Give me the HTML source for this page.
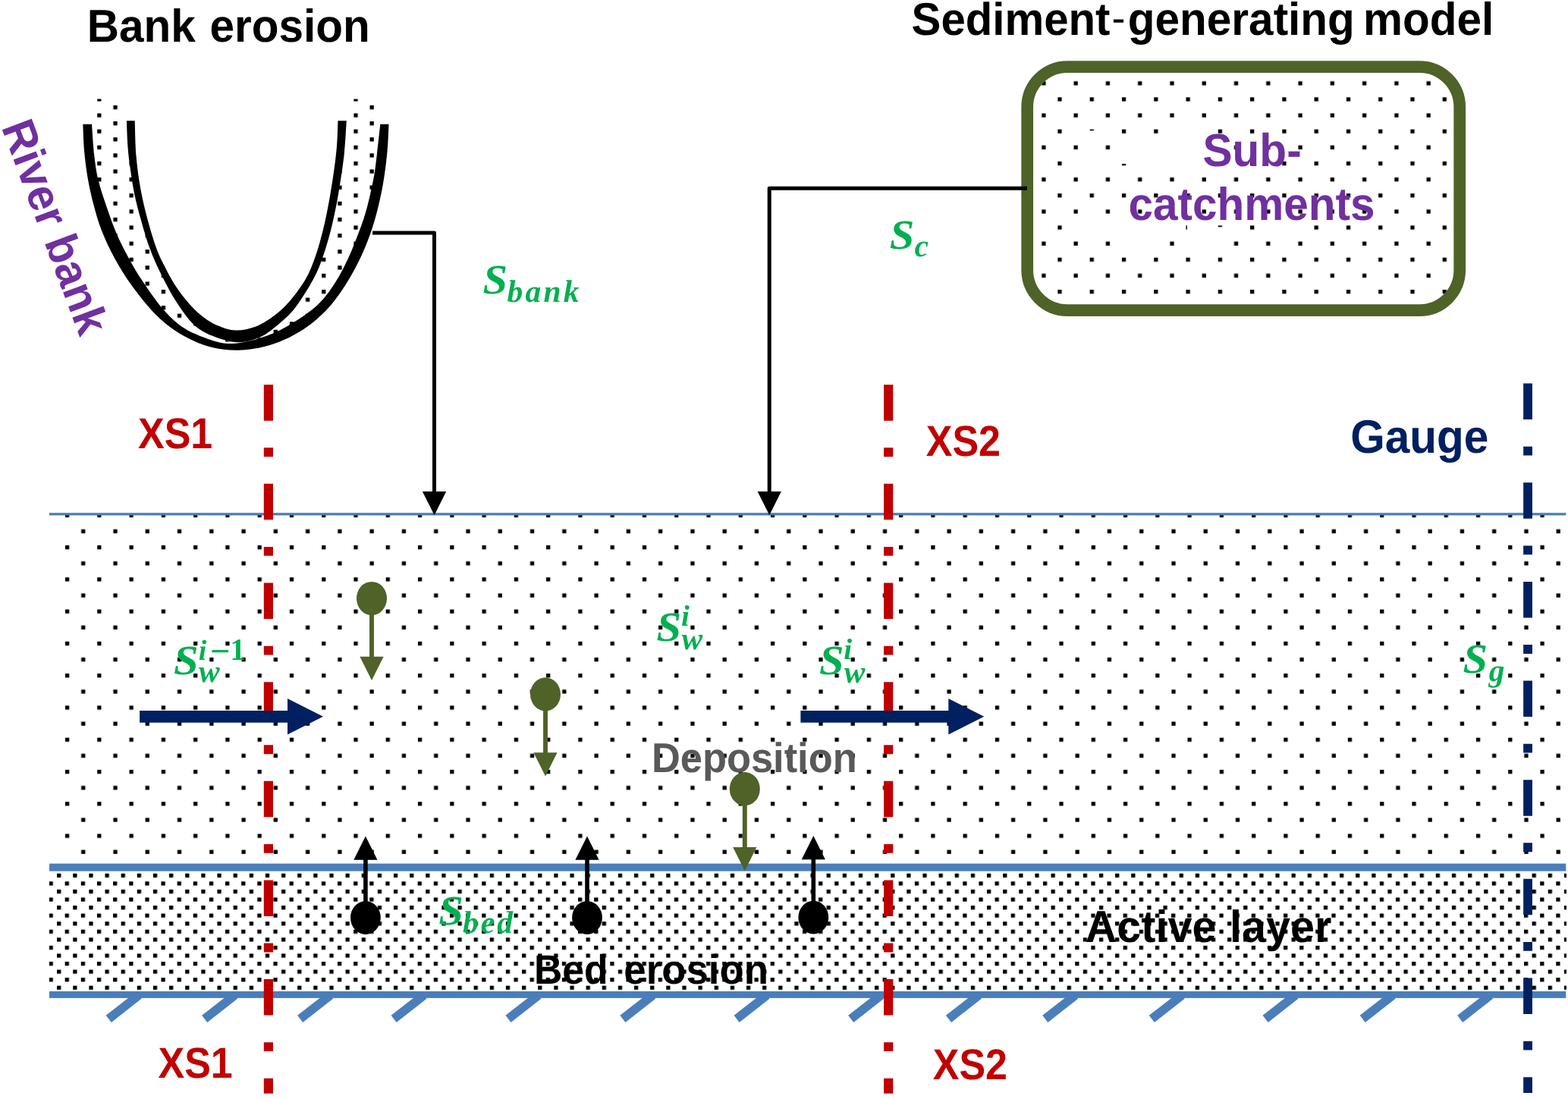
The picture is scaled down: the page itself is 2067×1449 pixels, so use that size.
<!DOCTYPE html>
<html lang="en"><head><meta charset="utf-8"><title>Sediment model schematic</title>
<style>
html,body{margin:0;padding:0;background:#fff;}
body{width:2067px;height:1449px;overflow:hidden;}
svg{display:block;}
text{text-rendering:geometricPrecision;}
.sans{font-family:'Liberation Sans', Arial, Helvetica, sans-serif;font-weight:bold;}
.math{font-family:'Liberation Serif', 'DejaVu Serif', serif;font-weight:bold;font-style:italic;fill:#00b050;}
</style></head><body>
<svg width="2067" height="1449" viewBox="0 0 2067 1449">
<defs>
<pattern id="pctW" x="1.4" y="0.4" width="42.272" height="42.272" patternUnits="userSpaceOnUse"><rect x="0" y="0" width="5.284" height="5.284"/><rect x="21.136" y="21.136" width="5.284" height="5.284"/></pattern>
<pattern id="pctB" x="-0.6" y="1.5" width="42.272" height="42.272" patternUnits="userSpaceOnUse"><rect x="0" y="0" width="5.284" height="5.284"/><rect x="21.136" y="21.136" width="5.284" height="5.284"/></pattern>
<pattern id="pctU" x="1.4" y="1.5" width="42.272" height="21.136" patternUnits="userSpaceOnUse"><rect x="0" y="0" width="5.284" height="5.284"/><rect x="21.136" y="10.568" width="5.284" height="5.284"/></pattern>
<pattern id="pctA" x="1.1" y="-0.2" width="21.136" height="21.136" patternUnits="userSpaceOnUse"><rect x="0" y="0" width="5.284" height="5.284"/><rect x="10.568" y="10.568" width="5.284" height="5.284"/></pattern>
<mask id="all" maskUnits="userSpaceOnUse" x="0" y="0" width="2067" height="1449"><rect width="2067" height="1449" fill="#fff"/></mask>
</defs>
<rect width="2067" height="1449" fill="#fff"/>
<rect x="75" y="677.5" width="1990" height="466" fill="url(#pctW)"/>
<rect x="64.9" y="1147" width="2000.1" height="161" fill="url(#pctA)"/>
<rect x="1354.2" y="88.1" width="570" height="321" rx="53" ry="53" fill="url(#pctB)"/>
<path d="M1583,190h8v8h-8zM1561.9,169.2h8v8h-8zM1498.7,190h8v8h-8zM1541,190h8v8h-8zM1435.6,210.9h8v8h-8zM1519.8,210.9h8v8h-8zM1561.9,210.9h8v8h-8zM1435.6,296.2h8v8h-8zM1477.7,296.2h8v8h-8zM1519.8,296.2h8v8h-8zM1688.9,296.2h8v8h-8zM1498.7,317.3h8v8h-8zM1583,317.3h8v8h-8zM1435.6,172.2h8v5h-8zM1477.7,210.9h8v5h-8zM1564.9,296.2h5v8h-5zM1604,299.2h8v5h-8z" fill="#fff"/>
<path d="M118,130.5C117.22,136.03 113.8,152.35 113.3,163.7C112.8,175.05 113.97,186.9 115,198.6C116.03,210.3 117.47,222.12 119.5,233.9C121.53,245.68 124.08,257.52 127.2,269.3C130.32,281.08 133.6,292.83 138.2,304.6C142.8,316.37 148.35,328.12 154.8,339.9C161.25,351.68 168.2,363.2 176.9,375.3C185.6,387.4 197.43,402.47 207,412.5C216.57,422.53 225.55,429.85 234.3,435.5C243.05,441.15 251.12,443.12 259.5,446.4C267.88,449.68 275.38,453.15 284.6,455.2C293.82,457.25 305.65,458.7 314.8,458.7C323.95,458.7 331.18,457.05 339.5,455.2C347.82,453.35 356.32,450.45 364.7,447.6C373.08,444.75 381.58,442.63 389.8,438.1C398.02,433.57 406.22,427.25 414,420.4C421.78,413.55 429.08,406.4 436.5,397C443.92,387.6 451.83,375.5 458.5,364C465.17,352.5 471.25,340.33 476.5,328C481.75,315.67 486,303.83 490,290C494,276.17 497.75,260 500.5,245C503.25,230 505.17,213.55 506.5,200C507.83,186.45 508.83,175.28 508.5,163.7C508.17,152.12 505.17,136.03 504.5,130.5L455.5,130.5C455.55,135.3 456.25,147.3 455.8,159.3C455.35,171.3 454.35,187.88 452.8,202.5C451.25,217.12 448.63,233.75 446.5,247C444.37,260.25 442.42,270.67 440,282C437.58,293.33 435.25,303.67 432,315C428.75,326.33 424.5,339.97 420.5,350C416.5,360.03 413.5,365.77 408,375.2C402.5,384.63 394.08,398.22 387.5,406.6C380.92,414.98 376,419.22 368.5,425.5C361,431.78 351.87,440 342.5,444.3C333.13,448.6 322.45,451.5 312.3,451.3C302.15,451.1 290.9,446.98 281.6,443.1C272.3,439.22 264.52,435.52 256.5,428C248.48,420.48 240.65,409 233.5,398C226.35,387 219.48,373.88 213.6,362C207.72,350.12 202.8,339.22 198.2,326.7C193.6,314.18 189.32,298.68 186,286.9C182.68,275.12 180.5,266.67 178.3,256C176.1,245.33 174.27,233.2 172.8,222.9C171.33,212.6 170.32,204.8 169.5,194.2C168.68,183.6 168.15,169.92 167.9,159.3C167.65,148.68 167.98,135.3 168,130.5Z" fill="url(#pctU)"/>
<path d="M109.3,163.7C109.58,169.52 109.97,186.9 111,198.6C112.03,210.3 113.47,222.12 115.5,233.9C117.53,245.68 120.08,257.52 123.2,269.3C126.32,281.08 129.6,292.83 134.2,304.6C138.8,316.37 144.35,328.12 150.8,339.9C157.25,351.68 164.2,363.2 172.9,375.3C181.6,387.4 193.43,402.47 203,412.5C212.57,422.53 221.55,429.35 230.3,435.5C239.05,441.65 247.12,445.62 255.5,449.4C263.88,453.18 271.38,456.15 280.6,458.2C289.82,460.25 300.32,461.7 310.8,461.7C321.28,461.7 333.85,460.05 343.5,458.2C353.15,456.35 360.32,453.95 368.7,450.6C377.08,447.25 385.58,443.13 393.8,438.1C402.02,433.07 410.22,427.25 418,420.4C425.78,413.55 433.08,406.4 440.5,397C447.92,387.6 455.83,375.5 462.5,364C469.17,352.5 475.25,340.33 480.5,328C485.75,315.67 490,303.83 494,290C498,276.17 501.75,260 504.5,245C507.25,230 509.17,213.55 510.5,200C511.83,186.45 512.17,169.75 512.5,163.7L501.3,163.7C500.58,170.17 498.47,190.62 497,202.5C495.53,214.38 495,222.08 492.5,235C490,247.92 486,266.17 482,280C478,293.83 473.08,306.33 468.5,318C463.92,329.67 459.75,339.67 454.5,350C449.25,360.33 443.58,370.78 437,380C430.42,389.22 424.83,396.88 415,405.3C405.17,413.72 389.92,423.78 378,430.5C366.08,437.22 355.53,441.83 343.5,445.6C331.47,449.37 317.33,452.88 305.8,453.1C294.27,453.32 285.1,450.5 274.3,446.9C263.5,443.3 251.05,438.23 241,431.5C230.95,424.77 222.92,416.75 214,406.5C205.08,396.25 194.92,381.1 187.5,370C180.08,358.9 175.07,350.07 169.5,339.9C163.93,329.73 158.87,320.03 154.1,309C149.33,297.97 144.95,285.48 140.9,273.7C136.85,261.92 132.57,249.72 129.8,238.3C127.03,226.88 125.77,217.63 124.3,205.2C122.83,192.77 121.55,170.62 121,163.7Z" fill="#000"/>
<path d="M166.9,159.3C167.17,165.12 167.68,183.6 168.5,194.2C169.32,204.8 170.33,212.6 171.8,222.9C173.27,233.2 175.1,245.33 177.3,256C179.5,266.67 181.68,275.12 185,286.9C188.32,298.68 192.6,314.18 197.2,326.7C201.8,339.22 206.72,350.12 212.6,362C218.48,373.88 225.35,387 232.5,398C239.65,409 247.48,420.48 255.5,428C263.52,435.52 270.97,439.22 280.6,443.1C290.23,446.98 302.82,451.1 313.3,451.3C323.78,451.5 334.13,448.6 343.5,444.3C352.87,440 362,431.78 369.5,425.5C377,419.22 381.92,414.98 388.5,406.6C395.08,398.22 403.5,384.63 409,375.2C414.5,365.77 417.5,360.03 421.5,350C425.5,339.97 429.75,326.33 433,315C436.25,303.67 438.58,293.33 441,282C443.42,270.67 445.37,260.25 447.5,247C449.63,233.75 452.25,217.12 453.8,202.5C455.35,187.88 456.3,166.5 456.8,159.3L445.5,159.3C445.22,165.25 444.92,182.38 443.8,195C442.68,207.62 440.93,220.83 438.8,235C436.67,249.17 433.8,266.17 431,280C428.2,293.83 425.27,306.33 422,318C418.73,329.67 415.05,340.9 411.4,350C407.75,359.1 405.12,364.63 400.1,372.6C395.08,380.57 387.58,390.67 381.3,397.8C375.02,404.93 369.75,409.95 362.4,415.4C355.05,420.85 345.8,427.15 337.2,430.5C328.6,433.85 319.18,435.72 310.8,435.5C302.42,435.28 294.03,432.13 286.9,429.2C279.77,426.27 274.28,422.72 268,417.9C261.72,413.08 255.48,407.42 249.2,400.3C242.92,393.18 235.75,383.58 230.3,375.2C224.85,366.82 220.55,358.08 216.5,350C212.45,341.92 209.77,337.22 206,326.7C202.23,316.18 197.4,300.15 193.9,286.9C190.4,273.65 187.4,260.82 185,247.2C182.6,233.58 180.72,219.85 179.5,205.2C178.28,190.55 178,166.95 177.7,159.3Z" fill="#000"/>
<text class="sans" transform="translate(859,1018.4) scale(1,1.05)" font-size="52.4" fill="#595959">Deposition</text>
<text class="sans" transform="translate(704,1296.6) scale(1,1.045)" font-size="51.7" fill="#000">Bed</text>
<text class="sans" transform="translate(822.3,1296.6) scale(1,1.03)" font-size="52.8" fill="#000">erosion</text>
<text class="sans" transform="translate(1430.8,1242) scale(1,1.03)" font-size="57.5" fill="#000">Active</text>
<text class="sans" transform="translate(1621,1242) scale(1,1.03)" font-size="57.5" fill="#000">layer</text>
<text class="sans" transform="translate(1585.5,218.6) scale(1,1.04)" font-size="58.6" fill="#7030a0">Sub-</text>
<text class="sans" transform="translate(1487.5,289.8) scale(1,1.04)" font-size="58.5" fill="#7030a0">catchments</text>
<rect x="65" y="676.2" width="1999.3" height="3.3" fill="#4a7ebb"/>
<rect x="65" y="1138.6" width="1999.3" height="10" fill="#4a7ebb"/>
<rect x="65" y="1307" width="1999.3" height="8.9" fill="#4a7ebb"/>
<path d="M143.2,1343.4L183,1312.2M269.7,1343.4L309.5,1312.2M395.7,1343.4L435.5,1312.2M519.1,1343.4L558.9,1312.2M670,1343.4L709.8,1312.2M820.9,1343.4L860.7,1312.2M971.1,1343.4L1010.9,1312.2M1121.7,1343.4L1161.5,1312.2M1250.5,1343.4L1290.3,1312.2M1377.8,1343.4L1417.6,1312.2M1518.3,1343.4L1558.1,1312.2M1668.1,1343.4L1707.9,1312.2M1796.2,1343.4L1836,1312.2M1924.7,1343.4L1964.5,1312.2" stroke="#4a7ebb" stroke-width="11.5" fill="none"/>
<rect x="1354.2" y="88.1" width="570" height="321" rx="53" ry="53" fill="none" stroke="#4f6228" stroke-width="15.7"/>
<path d="M491,307H572.5V650" fill="none" stroke="#000" stroke-width="5" stroke-linejoin="round"/>
<path d="M556.9,648H588.2L572.55,679.2Z" fill="#000"/>
<path d="M1354,248.3H1014.2V650" fill="none" stroke="#000" stroke-width="5" stroke-linejoin="round"/>
<path d="M998.6,648H1029.9L1014.25,679.2Z" fill="#000"/>
<ellipse cx="490" cy="789" rx="20" ry="22.1" fill="#4f6228"/>
<rect x="487.05" y="809" width="5.9" height="60" fill="#4f6228"/>
<path d="M474.4,865.8H505.6L490,897Z" fill="#4f6228"/>
<ellipse cx="719" cy="915.4" rx="20" ry="22.1" fill="#4f6228"/>
<rect x="716.05" y="935.4" width="5.9" height="60" fill="#4f6228"/>
<path d="M703.4,992.2H734.6L719,1023.4Z" fill="#4f6228"/>
<ellipse cx="981.8" cy="1040.2" rx="20" ry="22.1" fill="#4f6228"/>
<rect x="978.85" y="1060.2" width="5.9" height="60" fill="#4f6228"/>
<path d="M966.2,1117H997.4L981.8,1148.2Z" fill="#4f6228"/>
<ellipse cx="481.9" cy="1210" rx="19.9" ry="21.9" fill="#000"/>
<rect x="479.1" y="1130" width="5.6" height="70" fill="#000"/>
<path d="M466.3,1133.7H497.5L481.9,1102.5Z" fill="#000"/>
<ellipse cx="774" cy="1210" rx="19.9" ry="21.9" fill="#000"/>
<rect x="771.2" y="1130" width="5.6" height="70" fill="#000"/>
<path d="M758.4,1133.7H789.6L774,1102.5Z" fill="#000"/>
<ellipse cx="1072.3" cy="1209.6" rx="19.9" ry="21.9" fill="#000"/>
<rect x="1069.5" y="1129.6" width="5.6" height="70" fill="#000"/>
<path d="M1056.7,1133.3H1087.9L1072.3,1102.1Z" fill="#000"/>
<path d="M353.9,507.2V1441.8" stroke="#c00000" stroke-width="12.2" stroke-dasharray="47.51 35.63 11.88 35.63" fill="none"/>
<path d="M1171.2,507.2V1441.8" stroke="#c00000" stroke-width="12.2" stroke-dasharray="47.51 35.63 11.88 35.63" fill="none"/>
<path d="M2014.05,505.6V1441" stroke="#002060" stroke-width="11.8" stroke-dasharray="47.51 35.63 11.88 35.63" fill="none"/>
<path d="M184.1,936.95H379V921L426,944.8L379,968.6V952.65H184.1Z" fill="#002060"/>
<path d="M1055.4,936.95H1250.3V921L1297.3,944.8L1250.3,968.6V952.65H1055.4Z" fill="#002060"/>
<text class="sans" transform="translate(114.7,54.5) scale(1,1.04)" font-size="58.5" fill="#000">Bank</text>
<text class="sans" transform="translate(276.4,54.5) scale(1,1.04)" font-size="58.5" fill="#000">erosion</text>
<text class="sans" transform="translate(1201.6,46) scale(1,1.04)" font-size="58.2" fill="#000">Sediment</text>
<text class="sans" x="1465.5" y="42.2" font-size="54" style="font-weight:normal" fill="#000">-</text>
<text class="sans" transform="translate(1486.8,46) scale(1,1.04)" font-size="58.5" fill="#000">generating</text>
<text class="sans" transform="translate(1797,46) scale(1,1.04)" font-size="58.5" fill="#000">model</text>
<text class="sans" transform="translate(1780.3,597.2) scale(1,1.06)" font-size="58.5" fill="#002060">Gauge</text>
<text class="sans" transform="translate(182,591.3) scale(1,1.096)" font-size="52" fill="#c00000">XS1</text>
<text class="sans" transform="translate(1220.7,600.6) scale(1,1.096)" font-size="52" fill="#c00000">XS2</text>
<text class="sans" transform="translate(208.5,1420.5) scale(1,1.096)" font-size="52" fill="#c00000">XS1</text>
<text class="sans" transform="translate(1229.7,1423) scale(1,1.096)" font-size="52" fill="#c00000">XS2</text>
<text class="sans" font-size="58" fill="#7030a0" transform="translate(1.5,167.4) rotate(69.5) scale(1,1.04)">River bank</text>
<g mask="url(#all)">
<text class="math" transform="translate(636.4,386.5) scale(1.065,1)" font-size="55">S</text>
<text class="math" x="668.6" y="397.7" font-size="41.5" letter-spacing="3.2">bank</text>
<text class="math" transform="translate(1172.8,327.5) scale(1.065,1)" font-size="55">S</text>
<text class="math" x="1205.5" y="338.3" font-size="41.5">c</text>
<text class="math" transform="translate(229,888.5) scale(1.065,1)" font-size="55">S</text>
<text class="math" x="261.9" y="899.4" font-size="41.5">w</text>
<text class="math" y="870" font-size="38"><tspan x="261.7">i</tspan><tspan x="275.7" dy="3.9" font-size="46.5">−</tspan><tspan x="303.2" dy="-3.9" font-size="40.5" font-style="normal">1</tspan></text>
<text class="math" transform="translate(865.6,845) scale(1.065,1)" font-size="55">S</text>
<text class="math" x="898.5" y="855.9" font-size="41.5">w</text>
<text class="math" x="898" y="824.8" font-size="39">i</text>
<text class="math" transform="translate(1079.9,888.7) scale(1.065,1)" font-size="55">S</text>
<text class="math" x="1112.8" y="899.6" font-size="41.5">w</text>
<text class="math" x="1112.3" y="868.5" font-size="39">i</text>
<text class="math" transform="translate(1928.6,887.4) scale(1.065,1)" font-size="55">S</text>
<text class="math" x="1962.8" y="898.2" font-size="41.5">g</text>
<text class="math" transform="translate(578.3,1218.8) scale(1.065,1)" font-size="55">S</text>
<text class="math" x="610" y="1229.8" font-size="41.5" letter-spacing="3">bed</text>
</g>
</svg>
</body></html>
